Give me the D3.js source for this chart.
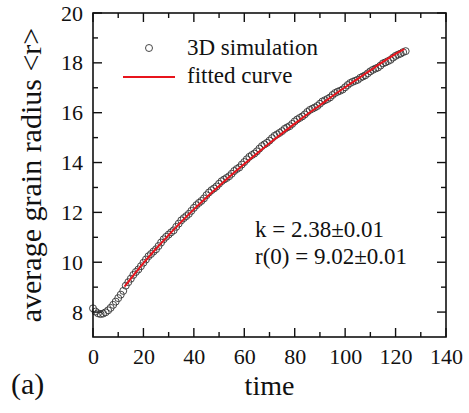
<!DOCTYPE html>
<html>
<head>
<meta charset="utf-8">
<script src="https://cdn.jsdelivr.net/npm/d3@7"></script>
<style>
  html, body { margin: 0; padding: 0; background: #fff; }
</style>
</head>
<body>
<svg id="chart" width="469" height="413"></svg>
<script>
// Simulated mean grain radius, one sample per time unit (t = 0 .. 124)
const simTime = d3.range(0, 125);
const simRadius = [
  8.15, 8.02, 7.95, 7.92, 7.94, 7.99, 8.07, 8.17, 8.29, 8.42,
  8.56, 8.70, 8.85, 9.06, 9.20, 9.34, 9.49, 9.61, 9.71, 9.84,
  9.98, 10.11, 10.24, 10.33, 10.43, 10.52, 10.65, 10.79, 10.92, 11.02,
  11.11, 11.20, 11.28, 11.42, 11.55, 11.68, 11.77, 11.85, 11.94, 12.06,
  12.18, 12.29, 12.38, 12.46, 12.56, 12.69, 12.80, 12.89, 12.96, 13.04,
  13.15, 13.25, 13.32, 13.38, 13.45, 13.55, 13.66, 13.74, 13.80, 13.92,
  14.02, 14.13, 14.23, 14.30, 14.36, 14.45, 14.56, 14.66, 14.73, 14.79,
  14.88, 14.98, 15.07, 15.13, 15.19, 15.26, 15.35, 15.41, 15.46, 15.55,
  15.65, 15.73, 15.79, 15.85, 15.93, 16.03, 16.11, 16.16, 16.21, 16.27,
  16.36, 16.45, 16.50, 16.55, 16.61, 16.71, 16.79, 16.84, 16.88, 16.93,
  17.02, 17.11, 17.19, 17.24, 17.28, 17.32, 17.40, 17.45, 17.50, 17.58,
  17.66, 17.72, 17.77, 17.81, 17.89, 17.98, 18.02, 18.07, 18.12, 18.21,
  18.28, 18.33, 18.37, 18.43, 18.47
];

// Fitted curve samples
const fitTime = [12.5, 15, 20, 25, 30, 35, 40, 45, 50, 55, 60, 65, 70, 75, 80, 85, 90, 95, 100, 105, 110, 115, 120, 123.5];
const fitRadius = [9.02, 9.34, 9.96, 10.54, 11.09, 11.62, 12.12, 12.60, 13.06, 13.51, 13.94, 14.36, 14.77, 15.17, 15.56, 15.94, 16.30, 16.67, 17.02, 17.36, 17.70, 18.04, 18.36, 18.55];

const xTicks = [0, 20, 40, 60, 80, 100, 120, 140];
const yTicks = [8, 10, 12, 14, 16, 18, 20];
const legendLabels = ["3D simulation", "fitted curve"];
const fitParams = ["k = 2.38\u00b10.01", "r(0) = 9.02\u00b10.01"];

const FONT = '"Liberation Serif"';
const svg = d3.select("#chart");
const plotL = 93, plotR = 446, plotT = 13, plotB = 337;

const x = d3.scaleLinear().domain([0, 140]).range([plotL, plotR]);
const y = d3.scaleLinear().domain([7, 20]).range([plotB, plotT]);

const majorLen = 9, minorLen = 5;
const xMinor = d3.range(10, 140, 20);
const yMinor = d3.range(9, 20, 2);

const g = svg.append("g");

// inward ticks on all four sides
function tickSet(vals, len, side) {
  vals.forEach(v => {
    let x1, y1, x2, y2;
    if (side === "bottom") { x1 = x2 = x(v); y1 = plotB; y2 = plotB - len; }
    if (side === "top")    { x1 = x2 = x(v); y1 = plotT; y2 = plotT + len; }
    if (side === "left")   { y1 = y2 = y(v); x1 = plotL; x2 = plotL + len; }
    if (side === "right")  { y1 = y2 = y(v); x1 = plotR; x2 = plotR - len; }
    g.append("line").attr("x1", x1).attr("y1", y1).attr("x2", x2).attr("y2", y2)
      .attr("stroke", "#111").attr("stroke-width", 1.4);
  });
}
["bottom", "top"].forEach(s => { tickSet(xTicks, majorLen, s); tickSet(xMinor, minorLen, s); });
["left", "right"].forEach(s => { tickSet(yTicks, majorLen, s); tickSet(yMinor, minorLen, s); });

// tick labels via d3 axes (tick marks drawn above)
const xAxis = d3.axisBottom(x).tickValues(xTicks).tickSize(0).tickPadding(0).tickFormat(d3.format("d"));
const xg = svg.append("g").attr("transform", `translate(0,${plotB + 11})`).call(xAxis);
xg.select(".domain").remove();
xg.selectAll("text").style("font-family", FONT).attr("font-size", 22).attr("dy", "0.71em").attr("fill", "#111");

const yAxis = d3.axisLeft(y).tickValues(yTicks).tickSize(0).tickPadding(0).tickFormat(d3.format("d"));
const yg = svg.append("g").attr("transform", `translate(${plotL - 10},0)`).call(yAxis);
yg.select(".domain").remove();
yg.selectAll("text").style("font-family", FONT).attr("font-size", 22).attr("fill", "#111");

// simulation markers
const sim = simTime.map((t, i) => ({ t, r: simRadius[i] }));
svg.append("g").selectAll("circle").data(sim).join("circle")
  .attr("cx", d => x(d.t)).attr("cy", d => y(d.r)).attr("r", 3.5)
  .attr("fill", "none").attr("stroke", "#333").attr("stroke-width", 0.9);

// fitted curve
const fit = fitTime.map((t, i) => ({ t, r: fitRadius[i] }));
svg.append("path").datum(fit)
  .attr("d", d3.line().x(d => x(d.t)).y(d => y(d.r)).curve(d3.curveMonotoneX))
  .attr("fill", "none").attr("stroke", "#e8141c").attr("stroke-width", 2);

// frame
svg.append("rect").attr("x", plotL).attr("y", plotT).attr("width", plotR - plotL).attr("height", plotB - plotT)
  .attr("fill", "none").attr("stroke", "#111").attr("stroke-width", 1.6);

const label = (xp, yp, size, txt) => svg.append("text").attr("x", xp).attr("y", yp)
  .style("font-family", FONT).attr("font-size", size).attr("fill", "#111").text(txt);

// legend
svg.append("circle").attr("cx", 149).attr("cy", 48).attr("r", 3.5)
  .attr("fill", "none").attr("stroke", "#333").attr("stroke-width", 0.9);
svg.append("line").attr("x1", 123).attr("x2", 175).attr("y1", 77).attr("y2", 77)
  .attr("stroke", "#e8141c").attr("stroke-width", 2);
label(187, 55, 23, legendLabels[0]);
label(187, 83, 23, legendLabels[1]);

// fit parameters
label(255, 237, 23, fitParams[0]);
label(255, 264, 23, fitParams[1]);

// axis titles
label((plotL + plotR) / 2, 395, 28, "time").attr("text-anchor", "middle");
svg.append("text").attr("transform", `translate(41,${(plotT + plotB) / 2}) rotate(-90)`)
  .attr("text-anchor", "middle").style("font-family", FONT).attr("font-size", 30).attr("fill", "#111")
  .text("average grain radius <r>");

// panel label
label(11, 394, 30, "(a)");
</script>
</body>
</html>
